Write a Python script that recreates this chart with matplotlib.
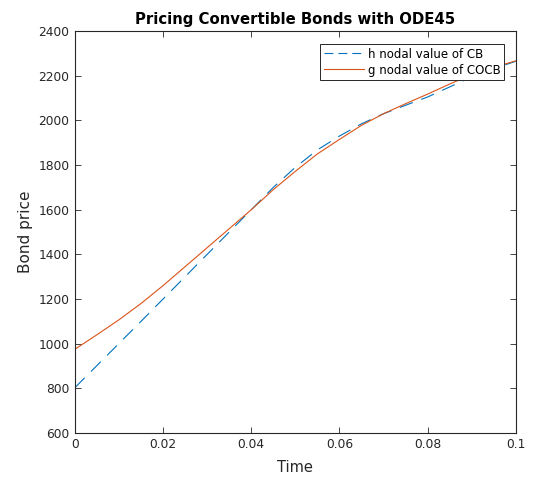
import numpy as np
import matplotlib
matplotlib.use("Agg")
import matplotlib.pyplot as plt
from matplotlib.lines import Line2D

# time grid and read-off values
t = [0.0, 0.005, 0.01, 0.015, 0.02, 0.025, 0.03, 0.035, 0.04, 0.045, 0.05,
     0.055, 0.06, 0.065, 0.07, 0.075, 0.08, 0.085, 0.09, 0.095, 0.1]
h_cb = [803, 902, 1001, 1100, 1200, 1300, 1400, 1500, 1600, 1700, 1790,
        1868, 1930, 1985, 2030, 2068, 2105, 2150, 2195, 2232, 2265]
g_cocb = [975, 1040, 1107, 1180, 1260, 1345, 1430, 1515, 1600, 1690, 1772,
          1850, 1915, 1978, 2030, 2075, 2118, 2163, 2205, 2238, 2267]

xticks = [0, 0.02, 0.04, 0.06, 0.08, 0.1]
xticklabels = ["0", "0.02", "0.04", "0.06", "0.08", "0.1"]
yticks = list(range(600, 2401, 200))

blue = "#0072BD"
orange = "#D95319"
dark = "#262626"
plt.rcParams["font.family"] = "DejaVu Sans"

fig = plt.figure(figsize=(5.35, 4.87), dpi=100)
ax = fig.add_axes([0.140, 0.111, 0.824, 0.825])

ax.plot(t, h_cb, color=blue, lw=0.8, dashes=(12.5, 8))
ax.plot(t, g_cocb, color=orange, lw=0.8)

ax.set_xlim(0, 0.1)
ax.set_ylim(600, 2400)
ax.set_xticks(xticks)
ax.set_xticklabels(xticklabels)
ax.set_yticks(yticks)
ax.tick_params(direction="in", top=True, right=True, length=4, width=0.6,
               colors=dark, labelsize=8.8, pad=4)
for s in ax.spines.values():
    s.set_color(dark)
    s.set_linewidth(0.8)

ax.set_xlabel("Time", fontsize=10.5, color=dark, labelpad=6)
ax.set_ylabel("Bond price", fontsize=11, color=dark, labelpad=4)
ax.set_title("Pricing Convertible Bonds with ODE45", fontsize=10.7, fontweight="bold", pad=5)

handles = [Line2D([], [], color=blue, lw=0.8, dashes=(8, 4.5)),
           Line2D([], [], color=orange, lw=0.8)]
labels = ["h nodal value of CB", "g nodal value of COCB"]
leg = ax.legend(handles, labels, loc="upper right", bbox_to_anchor=(0.973, 0.968),
                borderaxespad=0, fontsize=8.5, fancybox=False, framealpha=1,
                edgecolor=dark, handlelength=3.4, handletextpad=0.3,
                borderpad=0.3, labelspacing=0.25)
leg.get_frame().set_linewidth(0.7)

fig.savefig("out.png", dpi=100)
